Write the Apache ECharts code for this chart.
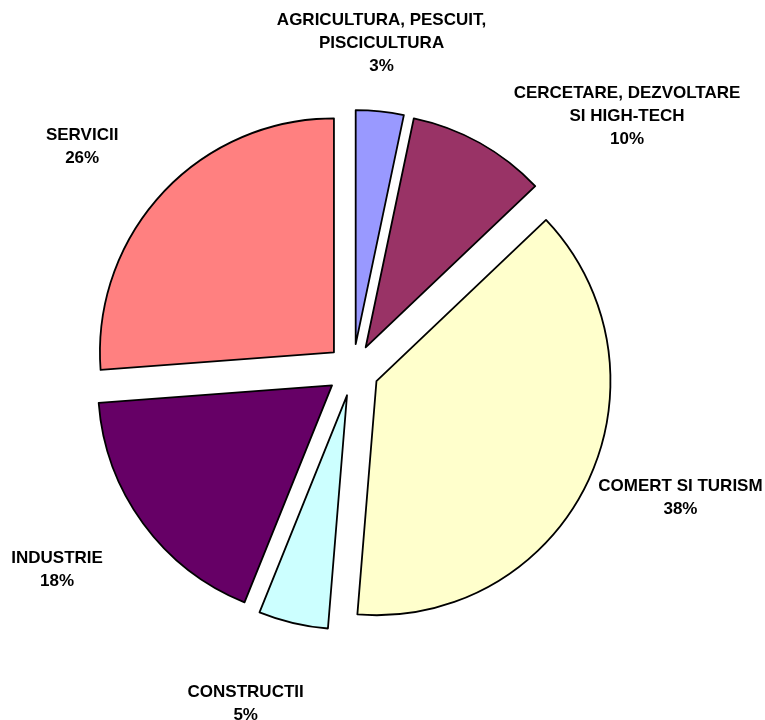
<!DOCTYPE html>
<html>
<head>
<meta charset="utf-8">
<script src="https://cdn.jsdelivr.net/npm/echarts@6/dist/echarts.min.js"></script>
<style>
html,body{margin:0;padding:0;background:#fff;}
#chart{width:765px;height:720px;}
</style>
</head>
<body>
<div id="chart"></div>
<script>
// ---- data ----
const categories = [
  'AGRICULTURA, PESCUIT,\nPISCICULTURA',
  'CERCETARE, DEZVOLTARE\nSI HIGH-TECH',
  'COMERT SI TURISM',
  'CONSTRUCTII',
  'INDUSTRIE',
  'SERVICII'
];
const values = [3.3, 9.6, 38.4, 4.8, 17.7, 26.2];
const colors = ['#9999FF', '#993366', '#FFFFCC', '#CCFFFF', '#660066', '#FF8080'];

// ---- layout ----
const CENTER = [353, 370];
const R = 234;
const EXPLODE = 26;
const LABEL_RING = [340, 360];
const labelNudges = [[-8, 24], [102, 55], [9, -24], [-26, -10], [-11, -9], [-12, 17]];

const labelStyle = {
  fontFamily: '"Liberation Sans", Arial, sans-serif',
  fontWeight: 'bold',
  fontSize: 17,
  lineHeight: 23,
  color: '#000000'
};

const chart = echarts.init(document.getElementById('chart'), null, {renderer: 'canvas'});
chart.setOption({
  backgroundColor: '#ffffff',
  animation: false,
  series: [{
    type: 'pie',
    center: CENTER,
    radius: [0, R],
    startAngle: 90,
    clockwise: true,
    selectedMode: 'multiple',
    selectedOffset: EXPLODE,
    emphasis: {disabled: true},
    label: {show: false},
    labelLine: {show: false},
    itemStyle: {borderColor: '#000000', borderWidth: 1.8},
    data: categories.map((c, i) => ({
      name: c,
      value: values[i],
      selected: true,
      itemStyle: {color: colors[i]},
      select: {itemStyle: {color: colors[i], borderColor: '#000000', borderWidth: 1.8}}
    }))
  }, {
    // invisible ring that carries the labels at the slices' mid-angles
    type: 'pie',
    center: CENTER,
    radius: LABEL_RING,
    startAngle: 90,
    clockwise: true,
    silent: true,
    selectedMode: false,
    emphasis: {disabled: true},
    itemStyle: {color: 'rgba(0,0,0,0)', borderWidth: 0},
    labelLine: {show: false},
    data: categories.map((c, i) => ({
      name: c,
      value: values[i],
      label: Object.assign({
        show: true,
        position: 'inside',
        align: 'center',
        offset: labelNudges[i],
        formatter: p => p.name + '\n' + Math.round(p.percent) + '%'
      }, labelStyle)
    }))
  }]
});
</script>
</body>
</html>
